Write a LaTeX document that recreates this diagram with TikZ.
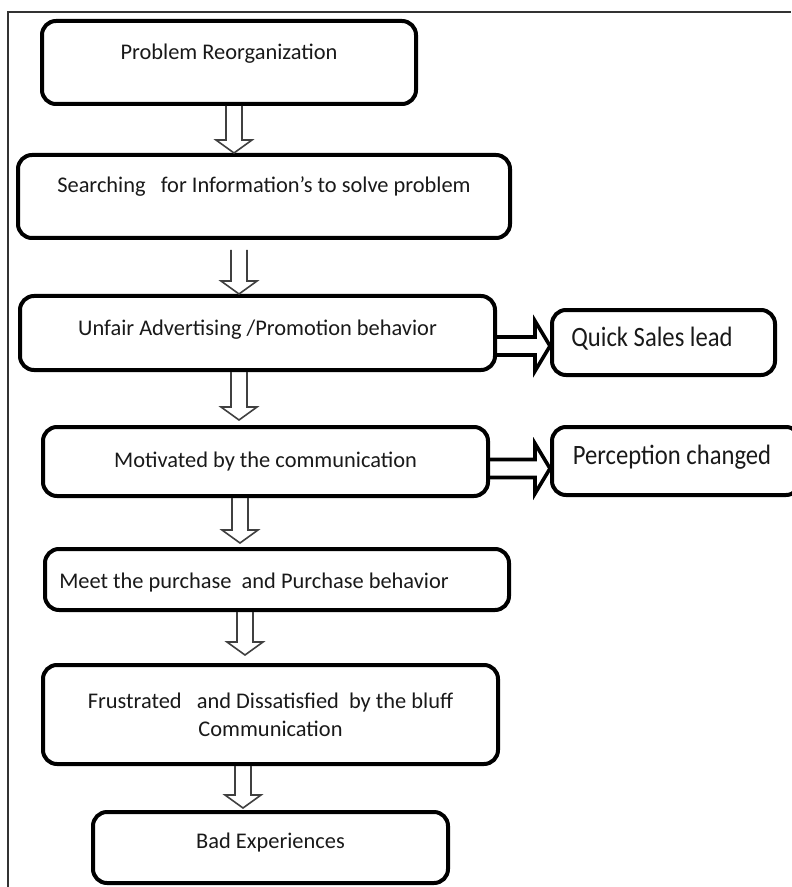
\documentclass[tikz,border=0pt]{standalone}
\usepackage{fontspec}
\setmainfont{Carlito}
\usepackage{tikz}
\usetikzlibrary{calc}

\begin{document}
\begin{tikzpicture}[x=0.5pt, y=-0.5pt,
  box/.style={draw, line width=2pt, rounded corners=7pt, text=black!90, align=center, inner sep=0pt,
    font=\fontsize{11.2}{14}\selectfont},
  lift/.style={text height=7.5pt, text depth=#1}, lift/.default=2pt,
  side/.style={box, font=\fontsize{14}{16}\selectfont, text height=10pt, text depth=#1},
  downblock/.style={draw=black!75, line width=0.8pt, to path={let \p1=(\tikztostart), \p2=(\tikztotarget) in
    (\x1-4pt,\y1) -- (\x1-4pt,\y2+6.5pt) -- (\x1-9pt,\y2+6.5pt) -- (\x1,\y2)
    -- (\x1+9pt,\y2+6.5pt) -- (\x1+4pt,\y2+6.5pt) -- (\x1+4pt,\y1)}},
  rightblock/.style={draw, line width=1.8pt, to path={let \p1=(\tikztostart), \p2=(\tikztotarget) in
    (\x1,\y1+4.5pt) -- (\x2-7.5pt,\y1+4.5pt) -- (\x2-7.5pt,\y1+12.5pt) -- (\x2,\y1)
    -- (\x2-7.5pt,\y1-12.5pt) -- (\x2-7.5pt,\y1-4.5pt) -- (\x1,\y1-4.5pt)}},
  frame/.style={draw=black!80, line width=0.8pt}]
\useasboundingbox (0,0) rectangle (791,887);
\draw[frame] (8,887) -- (8,12) -- (791,12);

\node[box, lift=10.5pt, minimum width=187pt, minimum height=41.5pt] (b1) at (229,62.5) {Problem Reorganization};
\node[box, lift=11.5pt, minimum width=246pt, minimum height=41.5pt] (b2) at (264,196.5) {Searching\ \ \ for Information's to solve problem};
\node[box, lift=5pt, minimum width=237.5pt, minimum height=37pt] (b3) at (257.5,333) {Unfair Advertising /Promotion behavior};
\node[box, lift, minimum width=222.5pt, minimum height=34.5pt] (b4) at (265.5,461.5) {Motivated by the communication};
\node[box, text height=11pt, text depth=2pt, minimum width=232pt, minimum height=30.5pt] (b5) at (277,579.5) {Meet the purchase\ \ and Purchase behavior\hspace{23pt}};
\node[box, minimum width=227.5pt, minimum height=49.5pt] (b6) at (270.5,714.5) {Frustrated\ \ \ and Dissatisfied\ \ by the bluff\\Communication};
\node[box, lift=6.5pt, minimum width=177.5pt, minimum height=35.5pt] (b7) at (270.5,847.5) {Bad Experiences};
\node[side=6pt, minimum width=111.5pt, minimum height=32.5pt] (q) at (663.5,342.5) {\scalebox{0.88}[1]{Quick Sales lead}\hspace{11.5pt}};
\node[side=6.5pt, minimum width=124pt, minimum height=34pt] (p) at (676,461) {\scalebox{0.88}[1]{Perception changed}\hspace{4pt}};

\draw[downblock] ([xshift=2.5pt]b1.south) to (b2.north);
\draw[downblock] ([xshift=-12.5pt,yshift=-5pt]b2.south) to (b3.north);
\draw[downblock] ([xshift=-9.25pt]b3.south) to ([yshift=2.5pt]b4.north);
\draw[downblock] ([xshift=-12.75pt]b4.south) to ([yshift=2pt]b5.north);
\draw[downblock] ([xshift=-16pt]b5.south) to ([yshift=4pt]b6.north);
\draw[downblock] ([xshift=-13.75pt]b6.south) to ([yshift=1pt]b7.north);
\draw[rightblock] ([yshift=-6.5pt]b3.east) to (q.west);
\draw[rightblock] ([yshift=-3.5pt]b4.east) to (p.west);
\end{tikzpicture}
\end{document}
